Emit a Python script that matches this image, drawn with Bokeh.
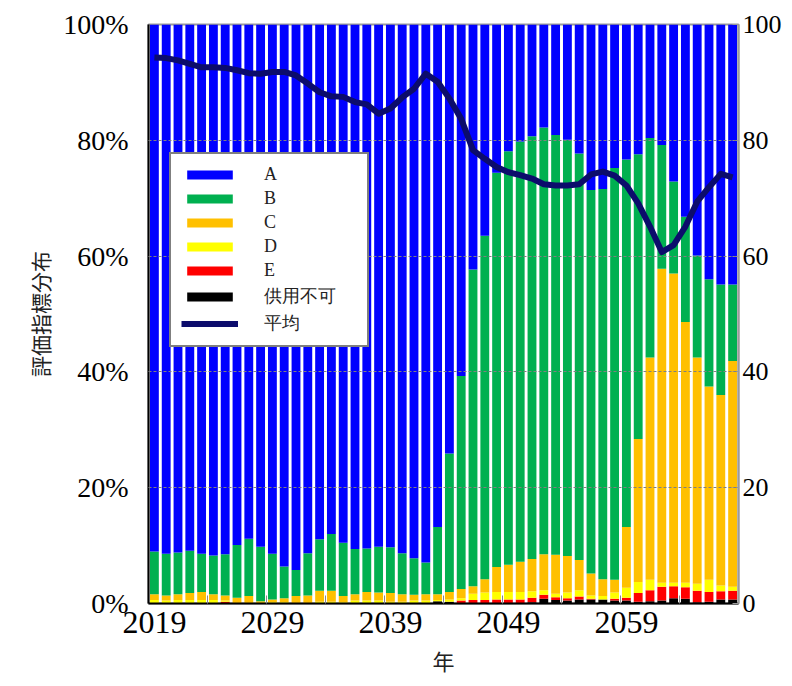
from bokeh.plotting import figure
from bokeh.models import (ColumnDataSource, Range1d, LinearAxis, FixedTicker,
                          PrintfTickFormatter, Legend, LegendItem)
from bokeh.embed import file_html
from bokeh.resources import INLINE

years = list(range(2019, 2069))

# 供用不可 / E / D / C / B / A  (% of total)
cat_K = [0, 0, 0, 0, 0, 0, 0, 0, 0, 0,
         0, 0, 0, 0, 0, 0, 0, 0, 0, 0,
         0, 0, 0, 0, 0.4, 0.3, 0.1, 0.1, 0.1, 0.1,
         0.1, 0.1, 0.2, 0.8, 0.6, 0.5, 0.7, 0.7, 0.7, 0.5,
         0.5, 0.3, 0.4, 0.5, 0.9, 0.8, 0.2, 0.3, 0.7, 0.7]
cat_E = [0, 0, 0, 0, 0, 0, 0.3, 0, 0, 0,
         0, 0, 0, 0, 0, 0, 0, 0, 0, 0,
         0, 0, 0, 0, 0, 0, 0.4, 0.5, 0.5, 0.6,
         0.6, 0.6, 0.8, 0.7, 0.5, 0.4, 0.5, 0.1, 0, 0.3,
         0.5, 1.5, 1.9, 2.4, 2.1, 2.0, 2.0, 1.7, 1.4, 1.5]
cat_D = [0.6, 0.5, 0.6, 0.6, 0.6, 0.6, 0.2, 0.1, 0.1, 0.1,
         0.2, 0.2, 0.1, 0.1, 0.3, 0.3, 0.2, 0.5, 0.5, 0.5,
         0.3, 0.3, 0.5, 0.5, 0.2, 0.4, 0.4, 1.1, 1.3, 1.3,
         1.3, 1.3, 1.1, 0.8, 0.6, 1.0, 1.1, 0.6, 0.6, 1.1,
         1.7, 1.9, 1.8, 0.7, 0.6, 0.8, 1.2, 2.1, 1.0, 0.7]
cat_C = [1.0, 0.9, 1.0, 1.2, 1.4, 1.0, 0.9, 0.9, 1.2, 0.3,
         0.5, 0.7, 1.2, 1.3, 1.9, 1.9, 1.1, 1.1, 1.5, 1.4,
         1.5, 1.3, 1.0, 1.1, 1.0, 1.3, 1.6, 1.3, 2.3, 4.3,
         4.7, 5.2, 5.6, 6.2, 6.7, 6.3, 5.2, 3.8, 2.9, 2.2,
         10.5, 24.7, 38.4, 54.2, 53.4, 45.0, 39.1, 33.4, 32.9, 39.0]
cat_B = [7.4, 7.2, 7.2, 7.3, 6.6, 6.7, 7.1, 9.1, 9.9, 9.4,
         7.9, 5.5, 4.5, 7.3, 8.9, 9.8, 9.2, 7.8, 7.5, 7.9,
         7.9, 7.1, 6.3, 5.5, 11.6, 23.9, 36.8, 54.7, 59.3, 68.1,
         71.4, 72.6, 73.0, 73.7, 72.5, 71.9, 70.2, 66.2, 67.4, 71.1,
         63.5, 49.2, 37.9, 21.4, 15.9, 18.2, 17.6, 18.5, 19.1, 13.2]
cat_A = [91.0, 91.4, 91.2, 90.9, 91.4, 91.7, 91.5, 89.9, 88.8, 90.2,
         91.4, 93.6, 94.2, 91.3, 88.9, 88.0, 89.5, 90.6, 90.5, 90.2,
         90.3, 91.3, 92.2, 92.9, 86.8, 74.1, 60.7, 42.3, 36.5, 25.6,
         21.9, 20.2, 19.3, 17.8, 19.1, 19.9, 22.3, 28.6, 28.4, 24.8,
         23.3, 22.4, 19.6, 20.8, 27.1, 33.2, 39.9, 44.0, 44.9, 44.9]
# 平均 (right axis, 0-100)
avg = [94.3, 94.2, 93.8, 93.2, 92.6, 92.6, 92.5, 92.1, 91.6, 91.5,
       91.8, 91.8, 91.2, 89.8, 88.3, 87.6, 87.5, 86.6, 86.2, 84.6,
       85.5, 87.4, 88.9, 91.5, 90.1, 87.2, 83.7, 78.3, 76.8, 75.4,
       74.5, 74.0, 73.4, 72.4, 72.2, 72.2, 72.4, 74.1, 74.6, 73.9,
       72.2, 69.1, 65.1, 60.7, 61.9, 65.1, 69.4, 71.9, 74.2, 73.6]

series_names = ["A", "B", "C", "D", "E", "供用不可"]
x_tick_years = [2019, 2029, 2039, 2049, 2059]
y_ticks = [0, 20, 40, 60, 80, 100]

source = ColumnDataSource(dict(year=years, K=cat_K, E=cat_E, D=cat_D,
                               C=cat_C, B=cat_B, A=cat_A, avg=avg))

SERIF = "Liberation Serif"

p = figure(width=784, height=678, output_backend="svg", toolbar_location=None,
           x_range=Range1d(2018.5, 2068.5), y_range=Range1d(0, 100),
           min_border_left=148, min_border_right=44, min_border_top=24,
           min_border_bottom=74, background_fill_color="white",
           border_fill_color="white")

stack_keys = ["K", "E", "D", "C", "B", "A"]
stack_colors = ["#000000", "#FF0000", "#FFFF00", "#FFC000", "#00B050", "#0000FF"]
bars = p.vbar_stack(stack_keys, x="year", width=0.75, color=stack_colors,
                    line_width=0, source=source)

ln = p.line(x="year", y="avg", source=source, line_color="#0C0C6C",
            line_width=6, line_join="round")
ln.level = "annotation"

# grid
p.xgrid.visible = False
p.ygrid.ticker = FixedTicker(ticks=[20, 40, 60, 80])
p.ygrid.grid_line_color = "#808080"
p.ygrid.grid_line_dash = "3 2"
p.ygrid.grid_line_width = 1
p.ygrid.level = "guide"

p.outline_line_color = "#9A9A9A"
p.outline_line_width = 2

# left axis
ya = p.yaxis[0]
ya.ticker = FixedTicker(ticks=y_ticks)
ya.formatter = PrintfTickFormatter(format="%d%%")
ya.major_label_text_font = SERIF
ya.major_label_text_font_size = "28px"
ya.major_label_text_color = "black"
ya.major_label_standoff = 20
ya.major_tick_out = 0
ya.major_tick_in = 0
ya.minor_tick_out = 0
ya.minor_tick_in = 0
ya.axis_line_color = "black"
ya.axis_line_width = 2
ya.axis_label = "評価指標分布"
ya.axis_label_text_font = "Noto Sans CJK JP"
ya.axis_label_text_font_style = "normal"
ya.axis_label_text_font_size = "21px"
ya.axis_label_text_color = "#222222"
ya.axis_label_standoff = 5

# bottom axis
xa = p.xaxis[0]
xa.ticker = FixedTicker(ticks=x_tick_years,
                        minor_ticks=[y + 0.5 for y in range(2023, 2068, 5)])
xa.formatter = PrintfTickFormatter(format="%d")
xa.major_label_text_font = SERIF
xa.major_label_text_font_size = "32px"
xa.major_label_text_color = "black"
xa.major_label_standoff = 8
xa.major_tick_out = 0
xa.major_tick_in = 0
xa.minor_tick_out = 0
xa.minor_tick_in = 8
xa.minor_tick_line_color = "#888888"
xa.axis_line_color = "black"
xa.axis_line_width = 2
xa.axis_label = "年"
xa.axis_label_text_font = "Noto Sans CJK JP"
xa.axis_label_text_font_style = "normal"
xa.axis_label_text_font_size = "22px"
xa.axis_label_text_color = "#222222"
xa.axis_label_standoff = 8

# right axis
ra = LinearAxis(ticker=FixedTicker(ticks=y_ticks))
ra.formatter = PrintfTickFormatter(format="%d")
ra.major_label_text_font = SERIF
ra.major_label_text_font_size = "26px"
ra.major_label_text_color = "black"
ra.major_label_standoff = 4
ra.major_tick_out = 0
ra.major_tick_in = 6
ra.major_tick_line_color = "#9A9A9A"
ra.minor_tick_out = 0
ra.minor_tick_in = 0
ra.axis_line_color = "#9A9A9A"
ra.axis_line_width = 2
p.add_layout(ra, "right")

# legend: A at top ... 供用不可, 平均
items = []
for name, r in zip(series_names, reversed(bars)):
    items.append(LegendItem(label=name, renderers=[r]))
items.append(LegendItem(label="平均", renderers=[ln]))
legend = Legend(items=items, location=(21, 256), orientation="vertical",
                glyph_width=57, glyph_height=11, label_height=20,
                spacing=3, padding=10, label_standoff=26, label_width=93,
                label_text_font=SERIF, label_text_font_size="18px",
                label_text_color="#222222",
                border_line_color="black", border_line_width=2,
                background_fill_color="white", background_fill_alpha=1.0)
p.add_layout(legend, "center")

open("out.html", "w").write(file_html(p, INLINE))
